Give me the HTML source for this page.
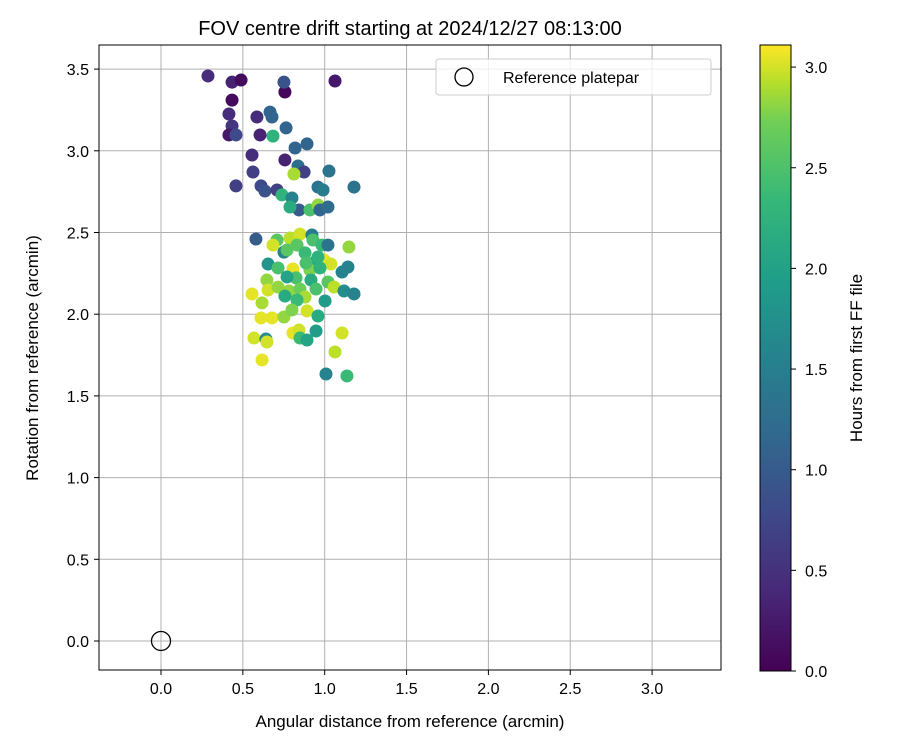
<!DOCTYPE html>
<html><head><meta charset="utf-8"><style>
html,body{margin:0;padding:0;background:#fff;}
svg{display:block;font-family:"Liberation Sans","DejaVu Sans",sans-serif;}
</style></head><body>
<svg id="chart" width="900" height="750">
<defs>
<linearGradient id="vir" x1="0" y1="1" x2="0" y2="0">
<stop offset="0" stop-color="#440154"/><stop offset="0.125" stop-color="#482878"/>
<stop offset="0.25" stop-color="#3e4989"/><stop offset="0.375" stop-color="#31688e"/>
<stop offset="0.5" stop-color="#26828e"/><stop offset="0.625" stop-color="#1f9e89"/>
<stop offset="0.75" stop-color="#35b779"/><stop offset="0.875" stop-color="#6ece58"/>
<stop offset="0.94" stop-color="#b5de2b"/><stop offset="1" stop-color="#fde725"/>
</linearGradient>
</defs>
<g id="grid"></g>
<g id="points"></g>
<rect x="99" y="45" width="622" height="625" fill="none" stroke="#000" stroke-width="1"/>
<g id="xticks"></g>
<g id="yticks"></g>
<text x="410" y="35" text-anchor="middle" font-size="20">FOV centre drift starting at 2024/12/27 08:13:00</text>
<text x="410" y="727" text-anchor="middle" font-size="17">Angular distance from reference (arcmin)</text>
<text x="38" y="358" text-anchor="middle" font-size="17" transform="rotate(-90 38 358)">Rotation from reference (arcmin)</text>
<g>
<rect x="436" y="59" width="275" height="36" rx="3" fill="#fff" fill-opacity="0.8" stroke="#ccc"/>
<circle cx="464" cy="77" r="9" fill="none" stroke="#000" stroke-width="1.3"/>
<text x="503" y="83" font-size="16">Reference platepar</text>
</g>
<g>
<rect x="760" y="45" width="31" height="626" fill="url(#vir)" stroke="#000" stroke-width="1"/>
<g id="cticks"></g>
<text x="862" y="358" text-anchor="middle" font-size="17" transform="rotate(-90 862 358)">Hours from first FF file</text>
</g>
</svg>
<script>
const xVals=[0.287,0.434,0.489,0.434,0.415,0.434,0.415,0.458,0.586,0.605,0.666,0.678,0.684,0.757,0.751,1.063,0.764,0.819,0.892,0.757,0.837,0.556,0.562,0.458,0.611,0.635,0.709,0.874,0.812,1.026,1.179,0.959,0.99,0.739,0.8,0.843,0.788,0.91,0.959,0.971,1.02,0.58,0.709,0.684,0.788,0.849,0.922,0.928,0.983,1.02,0.831,0.751,0.77,0.88,0.941,0.996,1.038,1.148,1.142,1.106,0.654,0.715,0.806,0.91,0.971,0.825,0.916,1.02,0.647,0.654,0.556,0.782,0.849,0.947,1.057,1.118,1.179,0.715,0.617,0.88,0.757,0.831,1.002,0.611,0.678,0.751,0.8,0.892,0.959,0.947,0.806,0.843,0.849,0.892,0.568,0.641,0.647,0.617,1.106,1.063,1.008,1.136,0.959,0.886,0.77];
const yVals=[3.458,3.42,3.433,3.31,3.225,3.152,3.097,3.097,3.207,3.097,3.237,3.207,3.09,3.36,3.42,3.427,3.14,3.017,3.042,2.944,2.907,2.974,2.87,2.785,2.785,2.754,2.76,2.87,2.858,2.876,2.778,2.778,2.76,2.73,2.711,2.638,2.656,2.638,2.668,2.638,2.656,2.46,2.454,2.423,2.466,2.49,2.485,2.454,2.423,2.423,2.423,2.38,2.393,2.375,2.32,2.332,2.307,2.411,2.289,2.258,2.307,2.283,2.277,2.27,2.283,2.222,2.209,2.197,2.209,2.148,2.124,2.142,2.154,2.154,2.166,2.142,2.124,2.166,2.069,2.105,2.111,2.087,2.081,1.977,1.977,1.983,2.026,2.02,1.989,1.897,1.885,1.903,1.854,1.842,1.854,1.848,1.83,1.72,1.885,1.769,1.634,1.622,2.35,2.313,2.228];
const hours=[0.4,0.3,0.1,0.1,0.4,0.5,0.2,0.7,0.4,0.3,1.0,1.0,2.0,0.05,0.8,0.2,1.0,1.0,1.0,0.3,1.1,0.4,0.6,0.6,0.7,0.8,0.6,0.6,2.7,1.2,1.2,1.2,1.3,2.0,1.4,0.9,1.9,2.2,2.6,1.0,1.1,0.9,2.3,2.9,2.8,2.9,1.3,2.2,2.1,1.2,2.3,1.4,2.3,2.1,1.8,3.0,2.9,2.6,1.4,1.4,1.6,2.2,3.0,2.5,2.0,2.2,1.9,2.3,2.6,2.9,3.0,2.6,2.4,2.2,2.8,1.5,1.4,2.6,2.7,2.7,1.9,2.1,1.7,3.0,3.0,2.6,2.5,2.9,1.9,1.7,3.0,2.9,2.1,1.8,2.9,1.5,2.9,3.0,2.9,2.8,1.4,2.1,2.0,2.2,1.8];
const xTicks=[0.0,0.5,1.0,1.5,2.0,2.5,3.0];
const yTicks=[0.0,0.5,1.0,1.5,2.0,2.5,3.0,3.5];
const cTicks=[0.0,0.5,1.0,1.5,2.0,2.5,3.0];
const refPoint=[0,0];

const NS="http://www.w3.org/2000/svg";
const X=v=>161+v*163.7, Y=v=>641-v*163.4, C=v=>671-v*201.3;
const stops=[[68,1,84],[72,40,120],[62,73,137],[49,104,142],[38,130,142],[31,158,137],[53,183,121],[110,206,88],[181,222,43],[253,231,37]];
function vir(h){let t=Math.max(0,Math.min(1,h/3.11))*(stops.length-1);let i=Math.min(Math.floor(t),stops.length-2),f=t-i;
const c=stops[i].map((a,k)=>Math.round(a+(stops[i+1][k]-a)*f));return `rgb(${c})`;}
function mk(tag,attrs,parent){const e=document.createElementNS(NS,tag);for(const k in attrs)e.setAttribute(k,attrs[k]);parent.appendChild(e);return e;}
const grid=document.getElementById('grid'),xt=document.getElementById('xticks'),yt=document.getElementById('yticks'),ct=document.getElementById('cticks'),pts=document.getElementById('points');
xTicks.forEach(v=>{const l=mk('line',{x1:X(v),x2:X(v),y1:45,y2:670,stroke:'#b0b0b0','stroke-width':1},grid);


mk('line',{x1:X(v),x2:X(v),y1:670,y2:675,stroke:'#000'},xt);
const t=mk('text',{x:X(v),y:694,'text-anchor':'middle','font-size':16},xt);t.textContent=v.toFixed(1);

});
yTicks.forEach(v=>{const l=mk('line',{x1:99,x2:721,y1:Y(v),y2:Y(v),stroke:'#b0b0b0','stroke-width':1},grid);


mk('line',{x1:94,x2:99,y1:Y(v),y2:Y(v),stroke:'#000'},yt);
const t=mk('text',{x:89,y:Y(v)+6,'text-anchor':'end','font-size':16},yt);t.textContent=v.toFixed(1);

});
cTicks.forEach(v=>{mk('line',{x1:791,x2:796,y1:C(v),y2:C(v),stroke:'#000'},ct);
const t=mk('text',{x:805,y:C(v)+6,'font-size':16},ct);t.textContent=v.toFixed(1);

});
xVals.forEach((x,i)=>{const c=mk('circle',{cx:X(x),cy:Y(yVals[i]),r:6.5,fill:vir(hours[i])},pts);

});
const r=mk('circle',{cx:X(refPoint[0]),cy:Y(refPoint[1]),r:9.5,fill:'none',stroke:'#000','stroke-width':1.3},pts);


</script>
</body></html>
